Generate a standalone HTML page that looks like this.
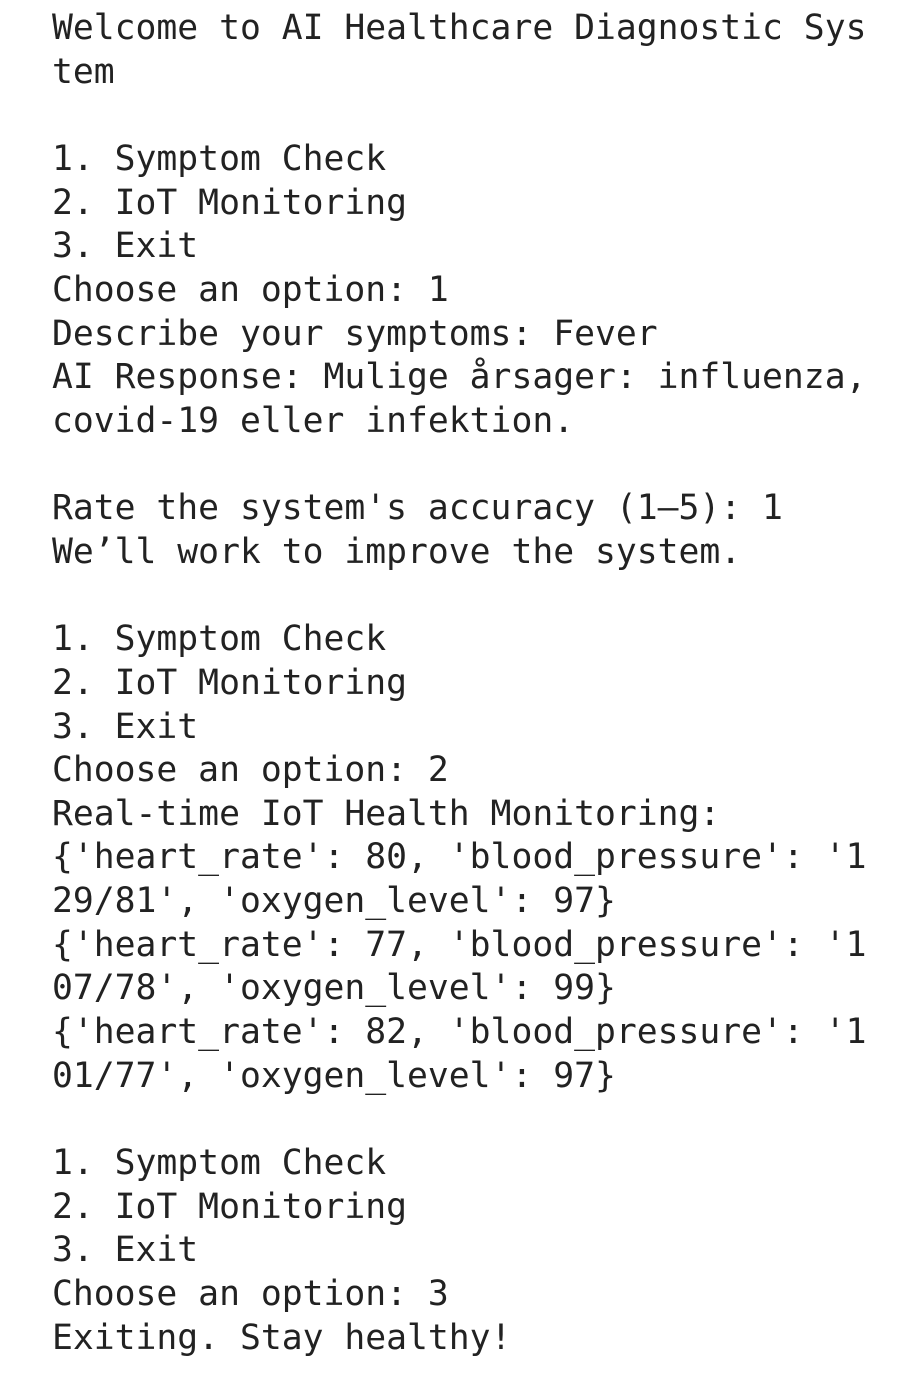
<!DOCTYPE html>
<html><head><meta charset="utf-8"><style>
html,body{margin:0;padding:0;background:#fff;width:924px;height:1387px;overflow:hidden}
pre{position:absolute;left:52px;top:7px;margin:0;font-family:"DejaVu Sans Mono","Liberation Mono",monospace;font-size:34.7px;line-height:43.65px;color:#222}
</style></head><body><pre>Welcome to AI Healthcare Diagnostic Sys
tem

1. Symptom Check
2. IoT Monitoring
3. Exit
Choose an option: 1
Describe your symptoms: Fever
AI Response: Mulige årsager: influenza,
covid-19 eller infektion.

Rate the system's accuracy (1–5): 1
We’ll work to improve the system.

1. Symptom Check
2. IoT Monitoring
3. Exit
Choose an option: 2
Real-time IoT Health Monitoring:
{'heart_rate': 80, 'blood_pressure': '1
29/81', 'oxygen_level': 97}
{'heart_rate': 77, 'blood_pressure': '1
07/78', 'oxygen_level': 99}
{'heart_rate': 82, 'blood_pressure': '1
01/77', 'oxygen_level': 97}

1. Symptom Check
2. IoT Monitoring
3. Exit
Choose an option: 3
Exiting. Stay healthy!</pre></body></html>
